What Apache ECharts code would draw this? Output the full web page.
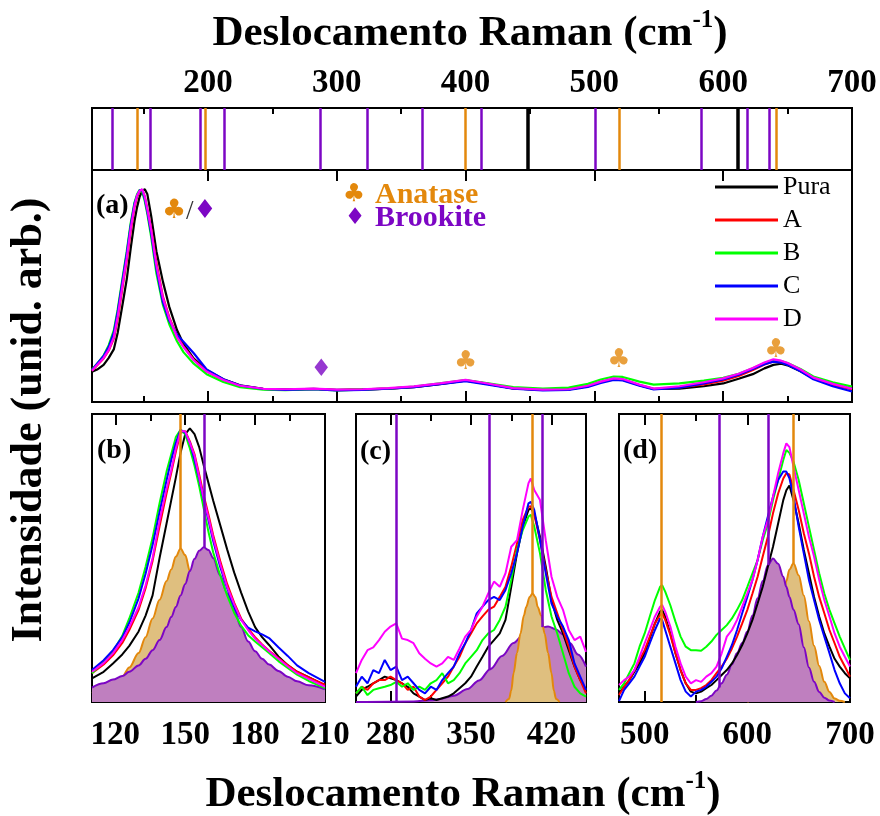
<!DOCTYPE html>
<html>
<head>
<meta charset="utf-8">
<script src="https://cdn.jsdelivr.net/npm/echarts@6/dist/echarts.min.js"></script>
<style>
  html, body { margin: 0; padding: 0; background: #fff; }
  #chart { width: 880px; height: 816px; }
</style>
</head>
<body>
<div id="chart"></div>
<script>
// ---------- reference band positions (cm^-1) ----------
const anataseBands = [145, 198, 400, 519, 641];
const brookiteBands = [126, 155, 194, 213, 287, 324, 366, 412, 501, 583, 619, 636];
const rutileBands = [448, 611];

// ---------- tick values ----------
const topMajorTicks = [200, 300, 400, 500, 600, 700];
const topMinorTicks = [150, 250, 350, 450, 550, 650];
const bMajorTicks = [120, 150, 180, 210];
const bMinorTicks = [135, 165, 195];
const cMajorTicks = [280, 350, 420];
const cMinorTicks = [315, 385];
const dMajorTicks = [500, 600, 700];
const dMinorTicks = [550, 650];

const sampleNames = ['Pura', 'A', 'B', 'C', 'D'];

// ---------- panel (a): full spectrum ----------
const aX = [110, 114, 119, 123, 127, 130, 134, 137, 140, 143, 145, 147, 149, 151, 153, 156, 160, 165, 170, 176,
            181, 189, 199, 212, 225, 243, 260, 282, 300, 320, 340, 360, 380, 400, 415, 437, 460, 480, 495, 505,
            515, 522, 535, 546, 566, 585, 600, 612, 623, 632, 639, 645, 650, 660, 670, 685, 700];
const aPura = [0.13, 0.14, 0.16, 0.19, 0.228, 0.3, 0.43, 0.53, 0.66, 0.78, 0.84, 0.885, 0.91, 0.917, 0.895, 0.8, 0.65, 0.52, 0.41, 0.31,
               0.25, 0.187, 0.138, 0.098, 0.072, 0.057, 0.053, 0.057, 0.052, 0.054, 0.058, 0.064, 0.077, 0.092, 0.08, 0.059, 0.052, 0.054, 0.068, 0.085,
               0.099, 0.096, 0.072, 0.056, 0.058, 0.068, 0.08, 0.1, 0.12, 0.145, 0.16, 0.165, 0.158, 0.132, 0.102, 0.077, 0.056];
const aA = [0.135, 0.158, 0.188, 0.222, 0.275, 0.36, 0.505, 0.61, 0.735, 0.84, 0.885, 0.908, 0.915, 0.885, 0.83, 0.745, 0.6, 0.455, 0.365, 0.285,
            0.24, 0.182, 0.132, 0.095, 0.07, 0.056, 0.053, 0.056, 0.051, 0.053, 0.058, 0.065, 0.078, 0.093, 0.08, 0.059, 0.052, 0.054, 0.068, 0.086,
            0.1, 0.097, 0.073, 0.057, 0.063, 0.076, 0.092, 0.112, 0.138, 0.162, 0.175, 0.172, 0.163, 0.136, 0.102, 0.075, 0.055];
const aB = [0.14, 0.165, 0.2, 0.245, 0.31, 0.4, 0.545, 0.65, 0.77, 0.86, 0.895, 0.915, 0.905, 0.865, 0.81, 0.71, 0.555, 0.42, 0.335, 0.262,
            0.215, 0.165, 0.12, 0.086, 0.064, 0.053, 0.051, 0.055, 0.05, 0.053, 0.058, 0.066, 0.08, 0.094, 0.083, 0.064, 0.058, 0.062, 0.078, 0.097,
            0.11, 0.108, 0.088, 0.075, 0.08, 0.092, 0.104, 0.122, 0.145, 0.168, 0.18, 0.176, 0.168, 0.142, 0.11, 0.085, 0.066];
const aC = [0.138, 0.165, 0.198, 0.238, 0.3, 0.39, 0.535, 0.64, 0.76, 0.855, 0.89, 0.912, 0.915, 0.875, 0.82, 0.725, 0.575, 0.43, 0.35, 0.29,
            0.26, 0.21, 0.14, 0.098, 0.071, 0.056, 0.052, 0.055, 0.05, 0.052, 0.057, 0.064, 0.077, 0.09, 0.077, 0.057, 0.05, 0.052, 0.065, 0.082,
            0.095, 0.093, 0.07, 0.054, 0.062, 0.08, 0.097, 0.118, 0.142, 0.163, 0.174, 0.17, 0.16, 0.132, 0.098, 0.068, 0.045];
const aD = [0.135, 0.16, 0.19, 0.225, 0.28, 0.37, 0.515, 0.62, 0.745, 0.845, 0.89, 0.91, 0.917, 0.885, 0.83, 0.74, 0.59, 0.45, 0.36, 0.28,
            0.237, 0.18, 0.131, 0.095, 0.07, 0.057, 0.055, 0.058, 0.053, 0.055, 0.06, 0.067, 0.08, 0.095, 0.082, 0.06, 0.053, 0.055, 0.07, 0.088,
            0.102, 0.099, 0.075, 0.058, 0.068, 0.085, 0.102, 0.122, 0.147, 0.17, 0.184, 0.178, 0.168, 0.14, 0.105, 0.078, 0.057];
// phase symbols placed over the bands in (a)
const aAnataseMarkX = [400, 519, 641];
const aAnataseMarkY = [0.172, 0.181, 0.224];
const aBrookiteMarkX = [288];
const aBrookiteMarkY = [0.138];

// ---------- panel (b): 110-210 cm^-1 ----------
const bX = [110, 115, 119, 123, 126, 130, 133, 136, 139, 142, 144, 146, 148, 150, 152, 154, 156, 158, 160, 162,
            165, 168, 171, 174, 177, 180, 183, 186, 190, 194, 198, 203, 210];
const bPura = [0.082, 0.105, 0.134, 0.165, 0.195, 0.245, 0.3, 0.37, 0.5, 0.62, 0.7, 0.78, 0.865, 0.93, 0.95, 0.93, 0.885, 0.82, 0.76, 0.7,
               0.615, 0.53, 0.45, 0.38, 0.315, 0.26, 0.225, 0.198, 0.158, 0.128, 0.105, 0.086, 0.058];
const bA = [0.1, 0.13, 0.162, 0.205, 0.25, 0.32, 0.395, 0.49, 0.61, 0.725, 0.795, 0.87, 0.935, 0.94, 0.905, 0.86, 0.79, 0.715, 0.65, 0.58,
            0.49, 0.41, 0.345, 0.29, 0.255, 0.225, 0.2, 0.178, 0.153, 0.128, 0.105, 0.085, 0.06];
const bB = [0.1, 0.14, 0.175, 0.23, 0.29, 0.38, 0.47, 0.57, 0.69, 0.8, 0.86, 0.92, 0.945, 0.93, 0.88, 0.82, 0.75, 0.67, 0.59, 0.52,
            0.44, 0.37, 0.31, 0.265, 0.232, 0.21, 0.19, 0.17, 0.142, 0.118, 0.095, 0.073, 0.048];
const bC = [0.111, 0.145, 0.18, 0.225, 0.275, 0.36, 0.445, 0.545, 0.66, 0.77, 0.84, 0.9, 0.945, 0.935, 0.9, 0.84, 0.775, 0.7, 0.63, 0.56,
            0.47, 0.395, 0.33, 0.285, 0.258, 0.245, 0.235, 0.222, 0.19, 0.16, 0.127, 0.1, 0.07];
const bD = [0.105, 0.135, 0.169, 0.215, 0.26, 0.33, 0.405, 0.5, 0.63, 0.74, 0.805, 0.88, 0.94, 0.94, 0.9, 0.855, 0.78, 0.705, 0.64, 0.57,
            0.48, 0.4, 0.34, 0.285, 0.25, 0.22, 0.198, 0.176, 0.15, 0.124, 0.1, 0.08, 0.053];
const bAnataseFit = [0.03, 0.04, 0.055, 0.088, 0.12, 0.17, 0.225, 0.29, 0.355, 0.42, 0.46, 0.505, 0.533, 0.51, 0.455, 0.39, 0.32, 0.26, 0.21, 0.17,
                     0.125, 0.095, 0.075, 0.06, 0.05, 0.042, 0.036, 0.032, 0.027, 0.023, 0.02, 0.017, 0.014];
const bBrookiteFit = [0.05, 0.065, 0.078, 0.09, 0.105, 0.127, 0.15, 0.18, 0.215, 0.26, 0.295, 0.33, 0.37, 0.41, 0.455, 0.497, 0.525, 0.537, 0.528, 0.5,
                      0.44, 0.378, 0.32, 0.26, 0.21, 0.176, 0.15, 0.13, 0.108, 0.088, 0.072, 0.058, 0.044];
const bAnataseLineX = [148], bAnataseLineEnd = [0.533];
const bBrookiteLineX = [158], bBrookiteLineEnd = [0.537];

// ---------- panel (c): 250-450 cm^-1 ----------
const cX = [250, 255, 260, 265, 270, 275, 280, 285, 290, 295, 300, 305, 310, 315, 320, 325, 330, 335, 340, 345,
            350, 355, 360, 365, 370, 375, 380, 385, 390, 395, 400, 402, 405, 410, 415, 420, 425, 430, 435, 440, 445, 450];
const cPura = [0.019, 0.042, 0.053, 0.065, 0.076, 0.088, 0.082, 0.076, 0.065, 0.053, 0.03, 0.019, 0.007, 0.013, 0.007, 0.013, 0.019, 0.03, 0.048, 0.065,
               0.088, 0.123, 0.157, 0.192, 0.215, 0.238, 0.285, 0.4, 0.516, 0.609, 0.667, 0.672, 0.655, 0.574, 0.47, 0.354, 0.285, 0.238, 0.18, 0.123, 0.076, 0.042];
const cA = [0.03, 0.053, 0.042, 0.065, 0.076, 0.076, 0.088, 0.076, 0.065, 0.042, 0.053, 0.019, 0.007, 0.019, 0.042, 0.065, 0.088, 0.123, 0.157, 0.204,
            0.238, 0.273, 0.297, 0.32, 0.331, 0.365, 0.4, 0.47, 0.55, 0.632, 0.678, 0.68, 0.65, 0.562, 0.458, 0.365, 0.308, 0.25, 0.192, 0.123, 0.076, 0.03];
const cB = [0.03, 0.053, 0.024, 0.042, 0.048, 0.053, 0.059, 0.07, 0.053, 0.065, 0.042, 0.053, 0.042, 0.065, 0.076, 0.1, 0.065, 0.076, 0.1, 0.134,
            0.157, 0.18, 0.215, 0.238, 0.25, 0.285, 0.331, 0.424, 0.528, 0.597, 0.644, 0.65, 0.609, 0.516, 0.389, 0.297, 0.238, 0.169, 0.1, 0.053, 0.03, 0.019];
const cC = [0.053, 0.088, 0.065, 0.111, 0.1, 0.146, 0.111, 0.123, 0.076, 0.088, 0.065, 0.042, 0.03, 0.053, 0.042, 0.076, 0.1, 0.123, 0.169, 0.204,
            0.25, 0.308, 0.331, 0.354, 0.365, 0.354, 0.389, 0.447, 0.516, 0.609, 0.69, 0.695, 0.667, 0.562, 0.447, 0.342, 0.297, 0.262, 0.215, 0.134, 0.088, 0.042];
const cD = [0.1, 0.146, 0.18, 0.19, 0.215, 0.244, 0.262, 0.273, 0.22, 0.215, 0.204, 0.169, 0.15, 0.134, 0.123, 0.134, 0.157, 0.146, 0.186, 0.227,
            0.25, 0.297, 0.331, 0.377, 0.418, 0.4, 0.447, 0.539, 0.562, 0.667, 0.76, 0.776, 0.736, 0.701, 0.562, 0.435, 0.365, 0.32, 0.25, 0.215, 0.227, 0.174];
const cAnataseFitX = [380, 383, 385, 387, 390, 393, 396, 398, 401, 403.5, 406, 408, 411, 414, 417, 420, 422, 424, 427];
const cAnataseFit = [0, 0.01, 0.04, 0.1, 0.17, 0.238, 0.3, 0.33, 0.365, 0.377, 0.365, 0.33, 0.3, 0.238, 0.17, 0.1, 0.04, 0.01, 0];
const cBrookiteFitX = [250, 300, 315, 323, 335, 347, 357, 367, 377, 387, 395, 402, 410, 417, 424, 430, 436, 443, 450];
const cBrookiteFit = [0, 0.002, 0.006, 0.01, 0.022, 0.045, 0.075, 0.115, 0.16, 0.205, 0.232, 0.248, 0.258, 0.262, 0.252, 0.235, 0.205, 0.165, 0.123];
const cAnataseLineX = [403.5], cAnataseLineEnd = [0.377];
const cBrookiteLineX = [285, 366, 412], cBrookiteLineEnd = [0, 0.11, 0.26];

// ---------- panel (d): 475-700 cm^-1 ----------
const dX = [475, 480, 485, 490, 495, 500, 505, 510, 515, 517, 520, 525, 530, 535, 540, 545, 550, 555, 560, 565,
            570, 575, 580, 585, 590, 595, 600, 605, 610, 615, 620, 625, 630, 635, 638, 641, 645, 650, 655, 660,
            665, 670, 675, 680, 685, 690, 695, 700];
const dPura = [0.03, 0.053, 0.076, 0.105, 0.134, 0.169, 0.221, 0.273, 0.314, 0.32, 0.297, 0.238, 0.169, 0.111, 0.065, 0.036, 0.03, 0.036, 0.048, 0.059,
               0.076, 0.094, 0.111, 0.134, 0.163, 0.198, 0.238, 0.285, 0.342, 0.4, 0.47, 0.539, 0.62, 0.701, 0.735, 0.752, 0.701, 0.62, 0.528, 0.447,
               0.365, 0.297, 0.238, 0.192, 0.15, 0.123, 0.1, 0.082];
const dA = [0.024, 0.053, 0.076, 0.111, 0.146, 0.18, 0.227, 0.273, 0.302, 0.308, 0.285, 0.233, 0.169, 0.111, 0.065, 0.042, 0.042, 0.048, 0.059, 0.076,
            0.1, 0.123, 0.15, 0.186, 0.227, 0.273, 0.32, 0.377, 0.435, 0.505, 0.574, 0.655, 0.724, 0.776, 0.794, 0.79, 0.736, 0.667, 0.586, 0.516,
            0.435, 0.365, 0.308, 0.25, 0.204, 0.157, 0.123, 0.088];
const dB = [0.042, 0.065, 0.1, 0.134, 0.192, 0.238, 0.297, 0.354, 0.4, 0.406, 0.383, 0.336, 0.279, 0.227, 0.192, 0.18, 0.18, 0.178, 0.192, 0.21,
            0.233, 0.25, 0.267, 0.29, 0.32, 0.354, 0.4, 0.447, 0.493, 0.562, 0.62, 0.701, 0.771, 0.84, 0.875, 0.865, 0.834, 0.771, 0.69, 0.609,
            0.528, 0.447, 0.377, 0.32, 0.273, 0.227, 0.186, 0.146];
const dC = [0.003, 0.042, 0.065, 0.088, 0.123, 0.157, 0.204, 0.25, 0.29, 0.285, 0.25, 0.192, 0.134, 0.076, 0.036, 0.019, 0.036, 0.042, 0.053, 0.07,
            0.088, 0.117, 0.157, 0.198, 0.25, 0.308, 0.365, 0.424, 0.493, 0.574, 0.644, 0.713, 0.771, 0.8, 0.8, 0.777, 0.713, 0.609, 0.516, 0.424,
            0.354, 0.285, 0.227, 0.169, 0.111, 0.065, 0.03, 0.013];
const dD = [0.059, 0.076, 0.088, 0.111, 0.157, 0.204, 0.25, 0.297, 0.331, 0.337, 0.314, 0.262, 0.192, 0.134, 0.088, 0.065, 0.076, 0.07, 0.088, 0.1,
            0.123, 0.169, 0.227, 0.25, 0.285, 0.331, 0.377, 0.424, 0.493, 0.574, 0.632, 0.713, 0.794, 0.864, 0.898, 0.885, 0.817, 0.736, 0.655, 0.574,
            0.505, 0.424, 0.354, 0.297, 0.238, 0.192, 0.157, 0.123];
const dAnataseFit = [0, 0, 0, 0, 0, 0, 0, 0, 0, 0, 0, 0, 0, 0, 0, 0, 0, 0, 0, 0,
                     0, 0, 0, 0, 0, 0, 0, 0.01, 0.03, 0.07, 0.125, 0.2, 0.28, 0.37, 0.42, 0.46, 0.482, 0.44, 0.37, 0.28,
                     0.195, 0.125, 0.07, 0.035, 0.012, 0.004, 0, 0];
const dBrookiteFit = [0, 0, 0, 0, 0, 0, 0, 0, 0, 0, 0, 0, 0, 0, 0, 0, 0, 0.003, 0.01, 0.022,
                      0.04, 0.065, 0.095, 0.13, 0.17, 0.205, 0.245, 0.3, 0.36, 0.42, 0.475, 0.498, 0.48, 0.435, 0.4, 0.365, 0.32, 0.27, 0.19, 0.12,
                      0.07, 0.035, 0.015, 0.005, 0, 0, 0, 0];
const dAnataseLineX = [516.5, 645], dAnataseLineEnd = [0, 0.482];
const dBrookiteLineX = [573, 620], dBrookiteLineEnd = [0.05, 0.475];

// ---------- styling ----------
const SERIF = 'Liberation Serif, Times New Roman, serif';
const sampleColors = { Pura: '#000000', A: '#ff0000', B: '#00ff00', C: '#0000ff', D: '#ff00ff' };
const ORANGE = '#e3880c';
const PURPLE = '#7c06c4';
const ORANGE_FILL = '#dfbf7f';
const PURPLE_FILL = '#bf7fbf';

// grid boxes: stick strip, (a), (b), (c), (d)
const grids = [
  { left: 92, top: 108, width: 760, height: 62 },
  { left: 92, top: 170, width: 760, height: 232 },
  { left: 92, top: 414, width: 233, height: 288 },
  { left: 356, top: 414, width: 230, height: 288 },
  { left: 619, top: 414, width: 231, height: 288 }
].map(g => Object.assign({ show: true, borderColor: '#000', borderWidth: 2, backgroundColor: 'transparent', containLabel: false }, g));

const ranges = [[110, 700], [110, 700], [110, 210], [250, 450], [475, 700]];

const xAxes = [];
function addAxis(gridIndex, position, ticks, len, withLabels) {
  const [mn, mx] = ranges[gridIndex];
  xAxes.push({
    type: 'value', gridIndex, position, min: mn, max: mx,
    axisLine: { show: false }, splitLine: { show: false },
    axisTick: { show: true, inside: true, length: len, customValues: ticks, lineStyle: { color: '#000', width: 2 } },
    axisLabel: withLabels ? {
      show: true, customValues: ticks, margin: position === 'top' ? 8 : 17,
      fontFamily: SERIF, fontWeight: 'bold', fontSize: 33, color: '#000'
    } : { show: false }
  });
  return xAxes.length - 1;
}
// stick strip: top ticks with labels
const ax0 = addAxis(0, 'top', topMajorTicks, 11, true);
addAxis(0, 'top', topMinorTicks, 6, false);
// (a): bottom ticks only
const ax1 = addAxis(1, 'bottom', topMajorTicks, 11, false);
addAxis(1, 'bottom', topMinorTicks, 6, false);
// (b), (c), (d): ticks top and bottom, labels bottom
const ax2 = addAxis(2, 'bottom', bMajorTicks, 11, true);
addAxis(2, 'bottom', bMinorTicks, 7, false);
addAxis(2, 'top', bMajorTicks, 11, false);
addAxis(2, 'top', bMinorTicks, 7, false);
const ax3 = addAxis(3, 'bottom', cMajorTicks, 11, true);
addAxis(3, 'bottom', cMinorTicks, 7, false);
addAxis(3, 'top', cMajorTicks, 11, false);
addAxis(3, 'top', cMinorTicks, 7, false);
const ax4 = addAxis(4, 'bottom', dMajorTicks, 11, true);
addAxis(4, 'bottom', dMinorTicks, 7, false);
addAxis(4, 'top', dMajorTicks, 11, false);
addAxis(4, 'top', dMinorTicks, 7, false);
const panelAxis = [ax0, ax1, ax2, ax3, ax4];

const yAxes = grids.map((g, i) => ({ type: 'value', gridIndex: i, min: 0, max: 1, show: false }));

const series = [];
const zip = (xs, ys) => xs.map((x, i) => [x, ys[i]]);
// drop the flat zero stretches of a fitted band so its outline does not run along the frame
const trimZeros = pts => pts.filter((p, i) =>
  p[1] > 0 || (pts[i - 1] && pts[i - 1][1] > 0) || (pts[i + 1] && pts[i + 1][1] > 0));

function sampleSeries(panel, xs, ysByName, width) {
  sampleNames.forEach((name, k) => {
    series.push({
      type: 'line', name, xAxisIndex: panelAxis[panel], yAxisIndex: panel,
      data: zip(xs, ysByName[k]), color: sampleColors[name],
      showSymbol: false, symbol: 'none', smooth: false,
      lineStyle: { width, color: sampleColors[name] }, z: 3 + k * 0.01, silent: true
    });
  });
}

function fitSeries(panel, xs, ys, edge, fill, z) {
  series.push({
    type: 'line', xAxisIndex: panelAxis[panel], yAxisIndex: panel,
    data: trimZeros(zip(xs, ys)), showSymbol: false, symbol: 'none', smooth: 0.35, smoothMonotone: 'x',
    lineStyle: { color: edge, width: 2 }, areaStyle: { color: fill, opacity: 1, origin: 'start' }, z, silent: true
  });
}

function bandLines(panel, xs, ends, color, width) {
  series.push({
    type: 'line', xAxisIndex: panelAxis[panel], yAxisIndex: panel, data: [], z: 5, silent: true,
    markLine: {
      silent: true, symbol: ['none', 'none'], animation: false, label: { show: false },
      lineStyle: { color, width, type: 'solid' },
      emphasis: { disabled: true },
      data: xs.map((x, i) => [{ coord: [x, ends[i]] }, { coord: [x, 1] }])
    }
  });
}

function fullBandLines(xs, color, width) {
  series.push({
    type: 'line', xAxisIndex: ax0, yAxisIndex: 0, data: [], z: 5, silent: true,
    markLine: {
      silent: true, symbol: ['none', 'none'], animation: false, label: { show: false },
      lineStyle: { color, width, type: 'solid' }, emphasis: { disabled: true },
      data: xs.map(x => [{ coord: [x, 0] }, { coord: [x, 1] }])
    }
  });
}

// stick strip
fullBandLines(brookiteBands, PURPLE, 2.5);
fullBandLines(anataseBands, ORANGE, 2.5);
fullBandLines(rutileBands, '#000', 3.5);

// (a)
sampleSeries(1, aX, [aPura, aA, aB, aC, aD], 2.2);
function markSeries(xs, ys, glyph, color, size) {
  series.push({
    type: 'scatter', xAxisIndex: ax1, yAxisIndex: 1, data: zip(xs, ys), symbolSize: 1,
    itemStyle: { color: 'rgba(0,0,0,0)' }, z: 6, silent: true,
    label: { show: true, position: 'inside', formatter: glyph, color, fontSize: size, fontFamily: 'DejaVu Sans' }
  });
}
markSeries(aAnataseMarkX, aAnataseMarkY, '♣', ORANGE, 26);
markSeries(aBrookiteMarkX, aBrookiteMarkY, '♦', PURPLE, 24);

// (b)
fitSeries(2, bX, bAnataseFit, ORANGE, ORANGE_FILL, 1);
fitSeries(2, bX, bBrookiteFit, PURPLE, PURPLE_FILL, 1.1);
bandLines(2, bAnataseLineX, bAnataseLineEnd, ORANGE, 2.5);
bandLines(2, bBrookiteLineX, bBrookiteLineEnd, PURPLE, 2.5);
sampleSeries(2, bX, [bPura, bA, bB, bC, bD], 2);

// (c)
fitSeries(3, cBrookiteFitX, cBrookiteFit, PURPLE, PURPLE_FILL, 1);
fitSeries(3, cAnataseFitX, cAnataseFit, ORANGE, ORANGE_FILL, 1.1);
sampleSeries(3, cX, [cPura, cA, cB, cC, cD], 2);
bandLines(3, cBrookiteLineX, cBrookiteLineEnd, PURPLE, 2.5);
bandLines(3, cAnataseLineX, cAnataseLineEnd, ORANGE, 2.5);

// (d)
fitSeries(4, dX, dAnataseFit, ORANGE, ORANGE_FILL, 1);
fitSeries(4, dX, dBrookiteFit, PURPLE, PURPLE_FILL, 1.1);
sampleSeries(4, dX, [dPura, dA, dB, dC, dD], 2);
bandLines(4, dAnataseLineX, dAnataseLineEnd, ORANGE, 2.5);
bandLines(4, dBrookiteLineX, dBrookiteLineEnd, PURPLE, 2.5);

const axisTitle = {
  text: '{m|Deslocamento Raman (cm}{s|-1}{m|)}',
  rich: {
    m: { fontFamily: SERIF, fontWeight: 'bold', fontSize: 43, fill: '#000' },
    s: { fontFamily: SERIF, fontWeight: 'bold', fontSize: 25, fill: '#000', padding: [0, 0, 26, 0] }
  },
  align: 'center', verticalAlign: 'middle'
};

const panelLabel = (text, x, y) => ({
  type: 'text', x, y, silent: true,
  style: { text, fontFamily: SERIF, fontWeight: 'bold', fontSize: 28, fill: '#000', verticalAlign: 'middle' }
});

const glyphText = (text, x, y, color, size) => ({
  type: 'text', x, y, silent: true,
  style: { text, fontFamily: 'DejaVu Sans', fontSize: size, fill: color, align: 'center', verticalAlign: 'middle' }
});

const option = {
  backgroundColor: '#fff',
  animation: false,
  grid: grids,
  xAxis: xAxes,
  yAxis: yAxes,
  legend: {
    data: sampleNames, orient: 'vertical', left: 710, top: 169,
    icon: 'rect', itemWidth: 63, itemHeight: 3, itemGap: 7, selectedMode: false,
    textStyle: { fontFamily: SERIF, fontSize: 26, color: '#000', lineHeight: 26 }
  },
  series,
  graphic: [
    { type: 'text', x: 470, y: 34, silent: true, style: Object.assign({}, axisTitle) },
    { type: 'text', x: 463, y: 795, silent: true, style: Object.assign({}, axisTitle) },
    {
      type: 'text', x: 30, y: 420, rotation: Math.PI / 2, silent: true,
      style: { text: 'Intensidade (unid. arb.)', fontFamily: SERIF, fontWeight: 'bold', fontSize: 44, fill: '#000', align: 'center', verticalAlign: 'middle' }
    },
    panelLabel('(a)', 96, 206),
    panelLabel('(b)', 97, 451),
    panelLabel('(c)', 360, 452),
    panelLabel('(d)', 623, 451),
    // phase key next to (a)
    glyphText('♣', 174, 211, ORANGE, 27),
    { type: 'text', x: 186, y: 212, silent: true,
      style: { text: '/', fontFamily: SERIF, fontSize: 27, fill: '#333', verticalAlign: 'middle' } },
    glyphText('♦', 205, 211, PURPLE, 26),
    glyphText('♣', 354, 194, ORANGE, 25),
    { type: 'text', x: 375, y: 195, silent: true,
      style: { text: 'Anatase', fontFamily: SERIF, fontWeight: 'bold', fontSize: 30, fill: ORANGE, verticalAlign: 'middle' } },
    glyphText('♦', 355, 218, PURPLE, 23),
    { type: 'text', x: 375, y: 218, silent: true,
      style: { text: 'Brookite', fontFamily: SERIF, fontWeight: 'bold', fontSize: 30, fill: PURPLE, verticalAlign: 'middle' } }
  ]
};

const chart = echarts.init(document.getElementById('chart'), null, { renderer: 'canvas' });
chart.setOption(option);
</script>
</body>
</html>
